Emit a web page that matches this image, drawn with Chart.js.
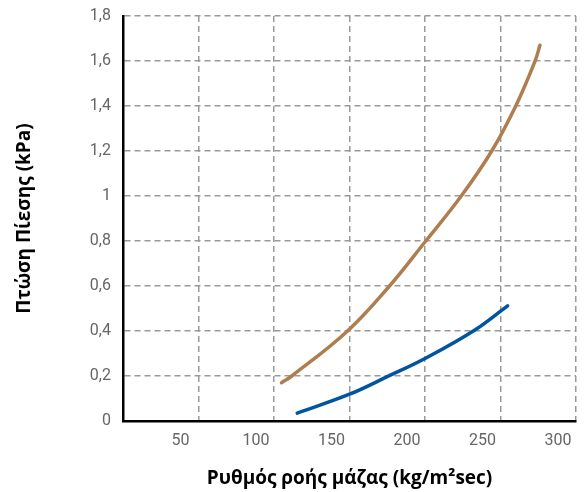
<!DOCTYPE html>
<html>
<head>
<meta charset="utf-8">
<script src="https://cdn.jsdelivr.net/npm/chart.js@4/dist/chart.umd.min.js"></script>
<style>
  html, body { margin: 0; padding: 0; background: #ffffff; }
  #wrap { width: 585px; height: 492px; }
</style>
</head>
<body>
<div id="wrap"><canvas id="c" width="585" height="492"></canvas></div>
<script>
// Data
const xTitle = 'Ρυθμός ροής μάζας (kg/m²sec)';
const yTitle = 'Πτώση Πίεσης (kPa)';
const brownX = [105, 111.8, 148.7, 176.5, 200.5, 224, 244.2, 260.1, 272.9, 276.1];
const brownY = [0.17, 0.2, 0.4, 0.6, 0.8, 1.0, 1.2, 1.4, 1.6, 1.67];
const blueX = [115.4, 150, 175, 200, 232, 254.7];
const blueY = [0.035, 0.119, 0.197, 0.278, 0.4, 0.512];
const xMin = 0, xMax = 300, xStep = 50;
const yMin = 0, yMax = 1.8, yStep = 0.2;

const toPts = (xs, ys) => xs.map((x, i) => ({ x: x, y: ys[i] }));

const gridColor = '#9a9a9a';
const tickColor = '#666666';
const TICKFONT = 'Roboto, "Open Sans", "DejaVu Sans", sans-serif';
const TITLEFONT = '"Open Sans", Roboto, "DejaVu Sans", sans-serif';

new Chart(document.getElementById('c'), {
  type: 'scatter',
  data: {
    datasets: [
      {
        data: toPts(brownX, brownY),
        showLine: true,
        borderColor: '#b07d4f',
        borderWidth: 3.5,
        pointRadius: 0,
        tension: 0.4,
        borderCapStyle: 'round'
      },
      {
        data: toPts(blueX, blueY),
        showLine: true,
        borderColor: '#00559e',
        borderWidth: 3.5,
        pointRadius: 0,
        tension: 0.4,
        borderCapStyle: 'round'
      }
    ]
  },
  options: {
    responsive: false,
    animation: false,
    devicePixelRatio: 1,
    layout: { padding: { left: 0, right: 9, top: 16, bottom: 0 } },
    plugins: { legend: { display: false }, tooltip: { enabled: false } },
    scales: {
      x: {
        type: 'linear',
        min: xMin, max: xMax,
        afterFit: (s) => { s.height = 492 - 421; s.paddingLeft = 0; s.paddingRight = 0; },
        ticks: {
          stepSize: xStep,
          autoSkip: false,
          maxRotation: 0,
          labelOffset: -18,
          padding: 10,
          color: tickColor,
          font: { family: TICKFONT, size: 16 },
          callback: (v) => (v === 0 ? '' : String(v))
        },
        grid: { color: gridColor, lineWidth: 1.5, drawTicks: false },
        border: { display: true, color: '#000000', width: 2.5, dash: [6, 4] },
        title: {
          display: true,
          text: xTitle,
          color: '#000000',
          font: { family: TITLEFONT, size: 19, weight: 'bold' },
          padding: { top: 0, bottom: 2 }
        }
      },
      y: {
        type: 'linear',
        min: yMin, max: yMax,
        afterFit: (s) => { s.width = 123; s.paddingTop = 0; s.paddingBottom = 0; },
        ticks: {
          stepSize: yStep,
          padding: 12,
          color: tickColor,
          font: { family: TICKFONT, size: 16 },
          callback: (v) => String(Math.round(v * 10) / 10).replace('.', ',')
        },
        grid: { color: gridColor, lineWidth: 1.5, drawTicks: false },
        border: { display: true, color: '#000000', width: 2.5, dash: [6, 4] },
        title: {
          display: true,
          text: yTitle,
          color: '#000000',
          font: { family: TITLEFONT, size: 19, weight: 'bold' },
          padding: { top: 13, bottom: 0 }
        }
      }
    }
  }
});
</script>
</body>
</html>
